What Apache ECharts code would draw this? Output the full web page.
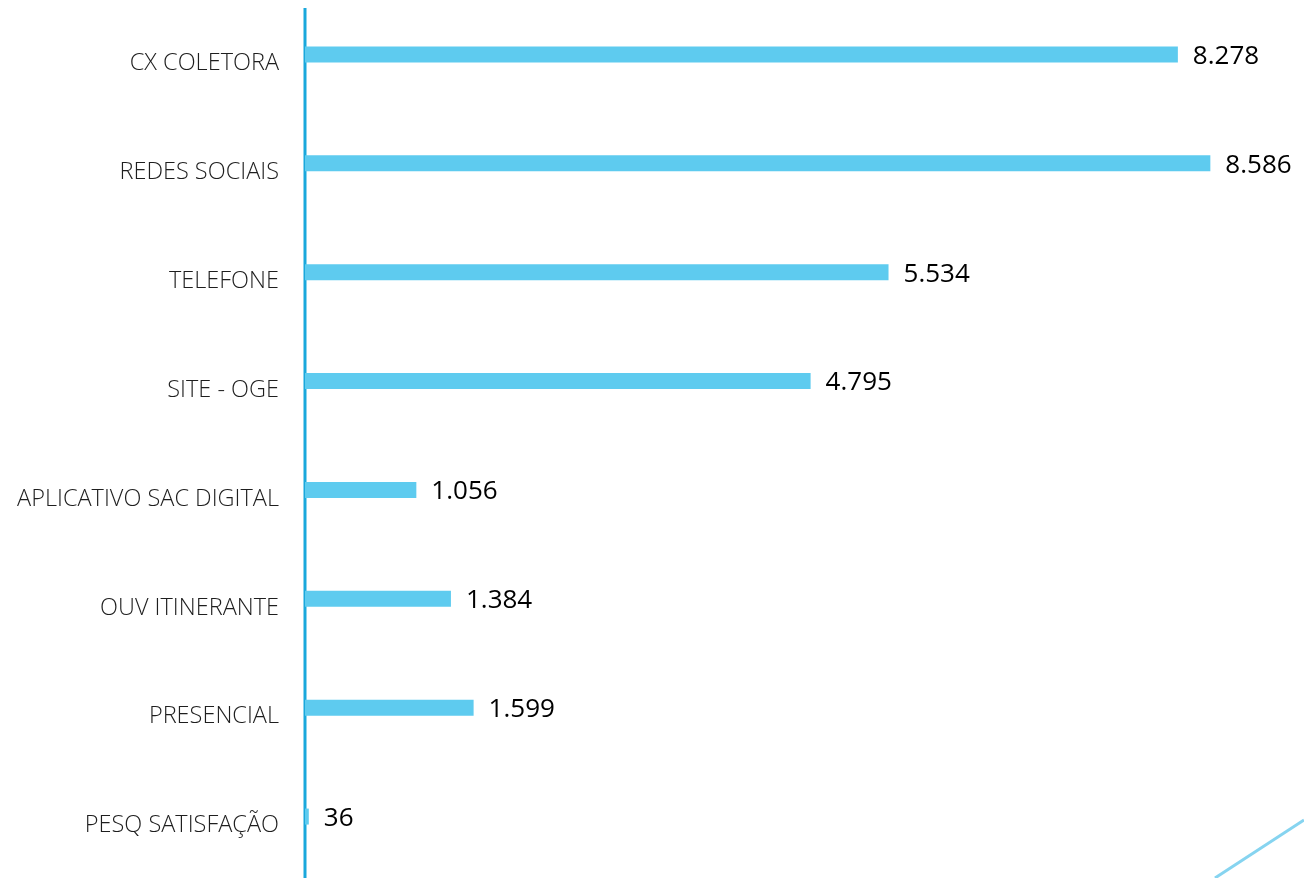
<!DOCTYPE html>
<html>
<head>
<meta charset="utf-8">
<script src="https://cdn.jsdelivr.net/npm/echarts@6/dist/echarts.min.js"></script>
<style>html,body{margin:0;padding:0;background:#fff}#c{width:1304px;height:878px}</style>
</head>
<body>
<div id="c"></div>
<script>
const categories = ['CX COLETORA','REDES SOCIAIS','TELEFONE','SITE - OGE','APLICATIVO SAC DIGITAL','OUV ITINERANTE','PRESENCIAL','PESQ SATISFAÇÃO'];
const values = [8278, 8586, 5534, 4795, 1056, 1384, 1599, 36];

const fmt = v => String(v).replace(/\B(?=(\d{3})+(?!\d))/g, '.');

const chart = echarts.init(document.getElementById('c'));
chart.setOption({
  animation: false,
  grid: { left: 305, top: -1, width: 949, height: 872 },
  xAxis: { type: 'value', min: 0, max: 9000, show: false },
  yAxis: {
    type: 'category', inverse: true, data: categories,
    axisLine: { show: false }, axisTick: { show: false },
    axisLabel: { color: '#1e1e1e', fontFamily: 'Open Sans', fontWeight: 300, fontSize: 23.5, margin: 26,
      verticalAlign: 'top', lineHeight: 18 }
  },
  series: [{
    type: 'bar', data: values, barWidth: 16,
    itemStyle: { color: '#5ecbef' },
    label: { show: true, position: 'right', distance: 15, color: '#000', fontFamily: 'Open Sans', fontSize: 26,
      offset: [0, 2], formatter: p => fmt(p.value) }
  }],
  graphic: [
    { type: 'line', shape: { x1: 305, y1: 8, x2: 305, y2: 878 }, style: { stroke: '#1aa8dc', lineWidth: 3 } },
    { type: 'line', shape: { x1: 1304, y1: 820, x2: 1215, y2: 878 }, style: { stroke: '#86d4f0', lineWidth: 3 } }
  ]
});
</script>
</body>
</html>
